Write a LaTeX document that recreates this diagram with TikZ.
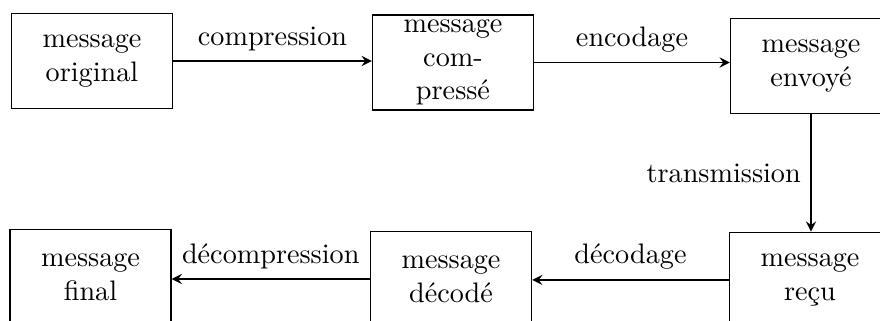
\documentclass[tikz,border=0pt]{standalone}
\usepackage{fontspec}
\usetikzlibrary{arrows}
\tikzset{>=stealth}
\tikzset{msg/.style={rectangle, draw, semithick, minimum width=57pt, minimum height=33.7pt, text width=50pt, inner ysep=1pt, align=center}}
\tikzset{step label/.style={font=\normalsize}}

\begin{document}
\begin{tikzpicture}[x=0.3545pt, y=-0.3545pt, semithick]
    \useasboundingbox (0,0) rectangle (880,321);
    \clip (0,0) rectangle (880,321);

    \node [msg] (msgOriginal) at (92,61) {message\\original};
    \node [msg] (msgCompresse) at (453,62.5) {message\\com-\\pressé};
    \node [msg] (msgEnvoye) at (811,66) {message\\envoyé};

    \node [msg] (msgRecu) at (810,280) {message\\reçu};
    \node [msg] (msgDecode) at (451,279) {message\\décodé};
    \node [msg] (msgFinal) at (90.5,277) {message\\final};

    % top row, left to right
    \draw [->] (msgOriginal.east) -- (msgOriginal.east -| msgCompresse.west)
        node [step label, midway, above] {compression};
    \draw [->] (msgCompresse.east) -- (msgCompresse.east -| msgEnvoye.west)
        node [step label, midway, above] {encodage};

    % down to the receiver
    \draw [->] (msgEnvoye.south) -- (msgEnvoye.south |- msgRecu.north)
        node [step label, midway, left] {transmission};

    % bottom row, right to left
    \draw [->] (msgRecu.west) -- (msgRecu.west -| msgDecode.east)
        node [step label, midway, above] {décodage};
    \draw [->] (msgDecode.west) -- (msgDecode.west -| msgFinal.east)
        node [step label, midway, above] {décompression};

\end{tikzpicture}
\end{document}
